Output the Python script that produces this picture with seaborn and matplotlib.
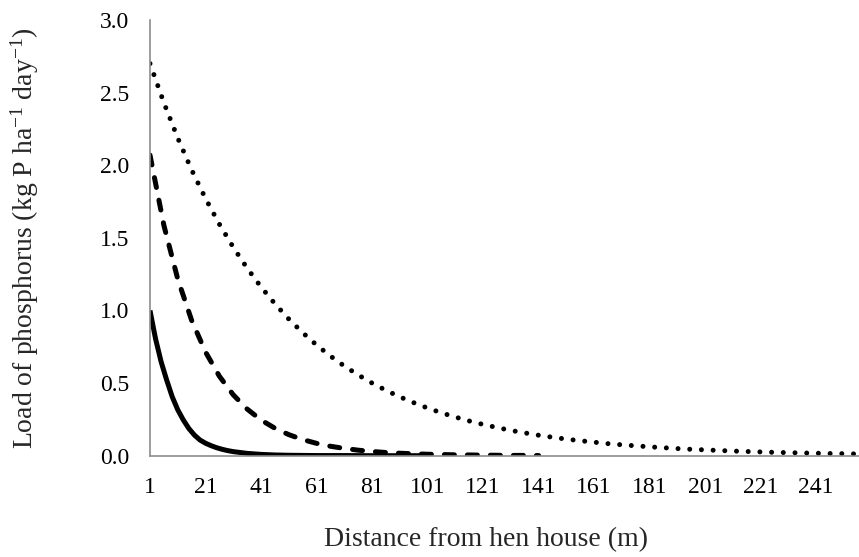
import matplotlib
matplotlib.use("Agg")
import matplotlib.pyplot as plt
import numpy as np
import pandas as pd
import seaborn as sns

# ---- data ----
x_solid = [1, 3, 5, 7, 9, 11, 13, 15, 17, 19, 21, 23, 25, 27, 29, 31,
           36, 41, 46, 51, 61, 71, 81, 91, 101]
y_solid = [1.000, 0.805, 0.647, 0.521, 0.406, 0.316, 0.246, 0.187, 0.142, 0.108,
           0.086, 0.069, 0.055, 0.044, 0.035, 0.028,
           0.016, 0.009, 0.005, 0.003, 0.001, 0.001, 0.000, 0.000, 0.000]

x_dashed = [1, 6, 11, 16, 21, 26, 31, 36, 41, 46, 51, 56, 61, 66, 71, 76, 81,
            86, 91, 96, 101, 106, 111, 116, 121, 126, 131, 136, 141]
y_dashed = [2.070, 1.586, 1.216, 0.932, 0.714, 0.547, 0.419, 0.321, 0.246, 0.189,
            0.145, 0.111, 0.085, 0.065, 0.050, 0.038, 0.029, 0.022, 0.017, 0.013,
            0.010, 0.008, 0.006, 0.005, 0.004, 0.003, 0.002, 0.002, 0.001]

x_dotted = [1, 6, 11, 16, 21, 26, 31, 36, 41, 46, 51, 56, 61, 66, 71, 76, 81, 86,
            91, 96, 101, 106, 111, 116, 121, 126, 131, 136, 141, 146, 151, 156,
            161, 166, 171, 176, 181, 186, 191, 196, 201, 206, 211, 216, 221, 226,
            231, 236, 241, 246, 251, 256, 261]
y_dotted = [2.700, 2.430, 2.187, 1.968, 1.771, 1.594, 1.435, 1.291, 1.162, 1.046,
            0.941, 0.847, 0.762, 0.686, 0.617, 0.556, 0.500, 0.450, 0.405, 0.365,
            0.328, 0.295, 0.266, 0.239, 0.215, 0.194, 0.174, 0.157, 0.141, 0.127,
            0.114, 0.103, 0.093, 0.083, 0.075, 0.068, 0.061, 0.055, 0.049, 0.044,
            0.040, 0.036, 0.032, 0.029, 0.026, 0.023, 0.021, 0.019, 0.017, 0.015,
            0.014, 0.012, 0.011]

x_ticks = [1, 21, 41, 61, 81, 101, 121, 141, 161, 181, 201, 221, 241]
y_ticks = [0.0, 0.5, 1.0, 1.5, 2.0, 2.5, 3.0]
x_title = "Distance from hen house (m)"
y_title = r"Load of phosphorus (kg P ha$\mathregular{^{-1}}$ day$\mathregular{^{-1}}$)"

# ---- style ----
sns.set_theme(style="white")
plt.rcParams["font.family"] = ["Liberation Serif", "DejaVu Serif"]
plt.rcParams["mathtext.fontset"] = "custom"
plt.rcParams["mathtext.rm"] = "Liberation Serif"
plt.rcParams["mathtext.it"] = "Liberation Serif:italic"

W, H = 859, 557
fig = plt.figure(figsize=(W / 100, H / 100), dpi=100)
left, right, top, bottom = 150, 859, 20, 455.7
ax = fig.add_axes([left / W, 1 - bottom / H, (right - left) / W, (bottom - top) / H])

lw = 3.6
df_s = pd.DataFrame({"x": x_solid, "y": y_solid})
df_d = pd.DataFrame({"x": x_dashed, "y": y_dashed})
df_o = pd.DataFrame({"x": x_dotted, "y": y_dotted})

sns.lineplot(data=df_s, x="x", y="y", ax=ax, color="black", lw=lw,
             solid_capstyle="butt")
sns.lineplot(data=df_d, x="x", y="y", ax=ax, color="black", lw=lw,
             linestyle=(0, (2.0, 2.6)), dash_capstyle="round")
sns.lineplot(data=df_o, x="x", y="y", ax=ax, color="black", lw=lw,
             linestyle=(0, (0.001, 2.34)), dash_capstyle="round")

ax.set_xlim(1, 256.4)
ax.set_ylim(0, 3.0)
ax.set_xticks(x_ticks)
ax.set_xticklabels([str(v) for v in x_ticks])
ax.set_yticks(y_ticks)
ax.set_yticklabels([f"{v:.1f}" for v in y_ticks])

for side in ["top", "right"]:
    ax.spines[side].set_visible(False)
for side in ["left", "bottom"]:
    ax.spines[side].set_color("#8c8c8c")
    ax.spines[side].set_linewidth(1.2)

ax.tick_params(axis="both", which="major", direction="out", length=5,
               width=1.2, color="#8c8c8c", labelsize=17, labelcolor="black")
ax.tick_params(axis="y", pad=10)
ax.tick_params(axis="x", pad=10)

ax.set_xlabel(x_title, fontsize=20, va="center")
ax.set_ylabel(y_title, fontsize=20, va="center")
ax.xaxis.set_label_coords((486 - left) / (right - left), (bottom - 540) / (bottom - top))
ax.yaxis.set_label_coords((25 - left) / (right - left), 0.5)

fig.savefig("out.png", dpi=100)
